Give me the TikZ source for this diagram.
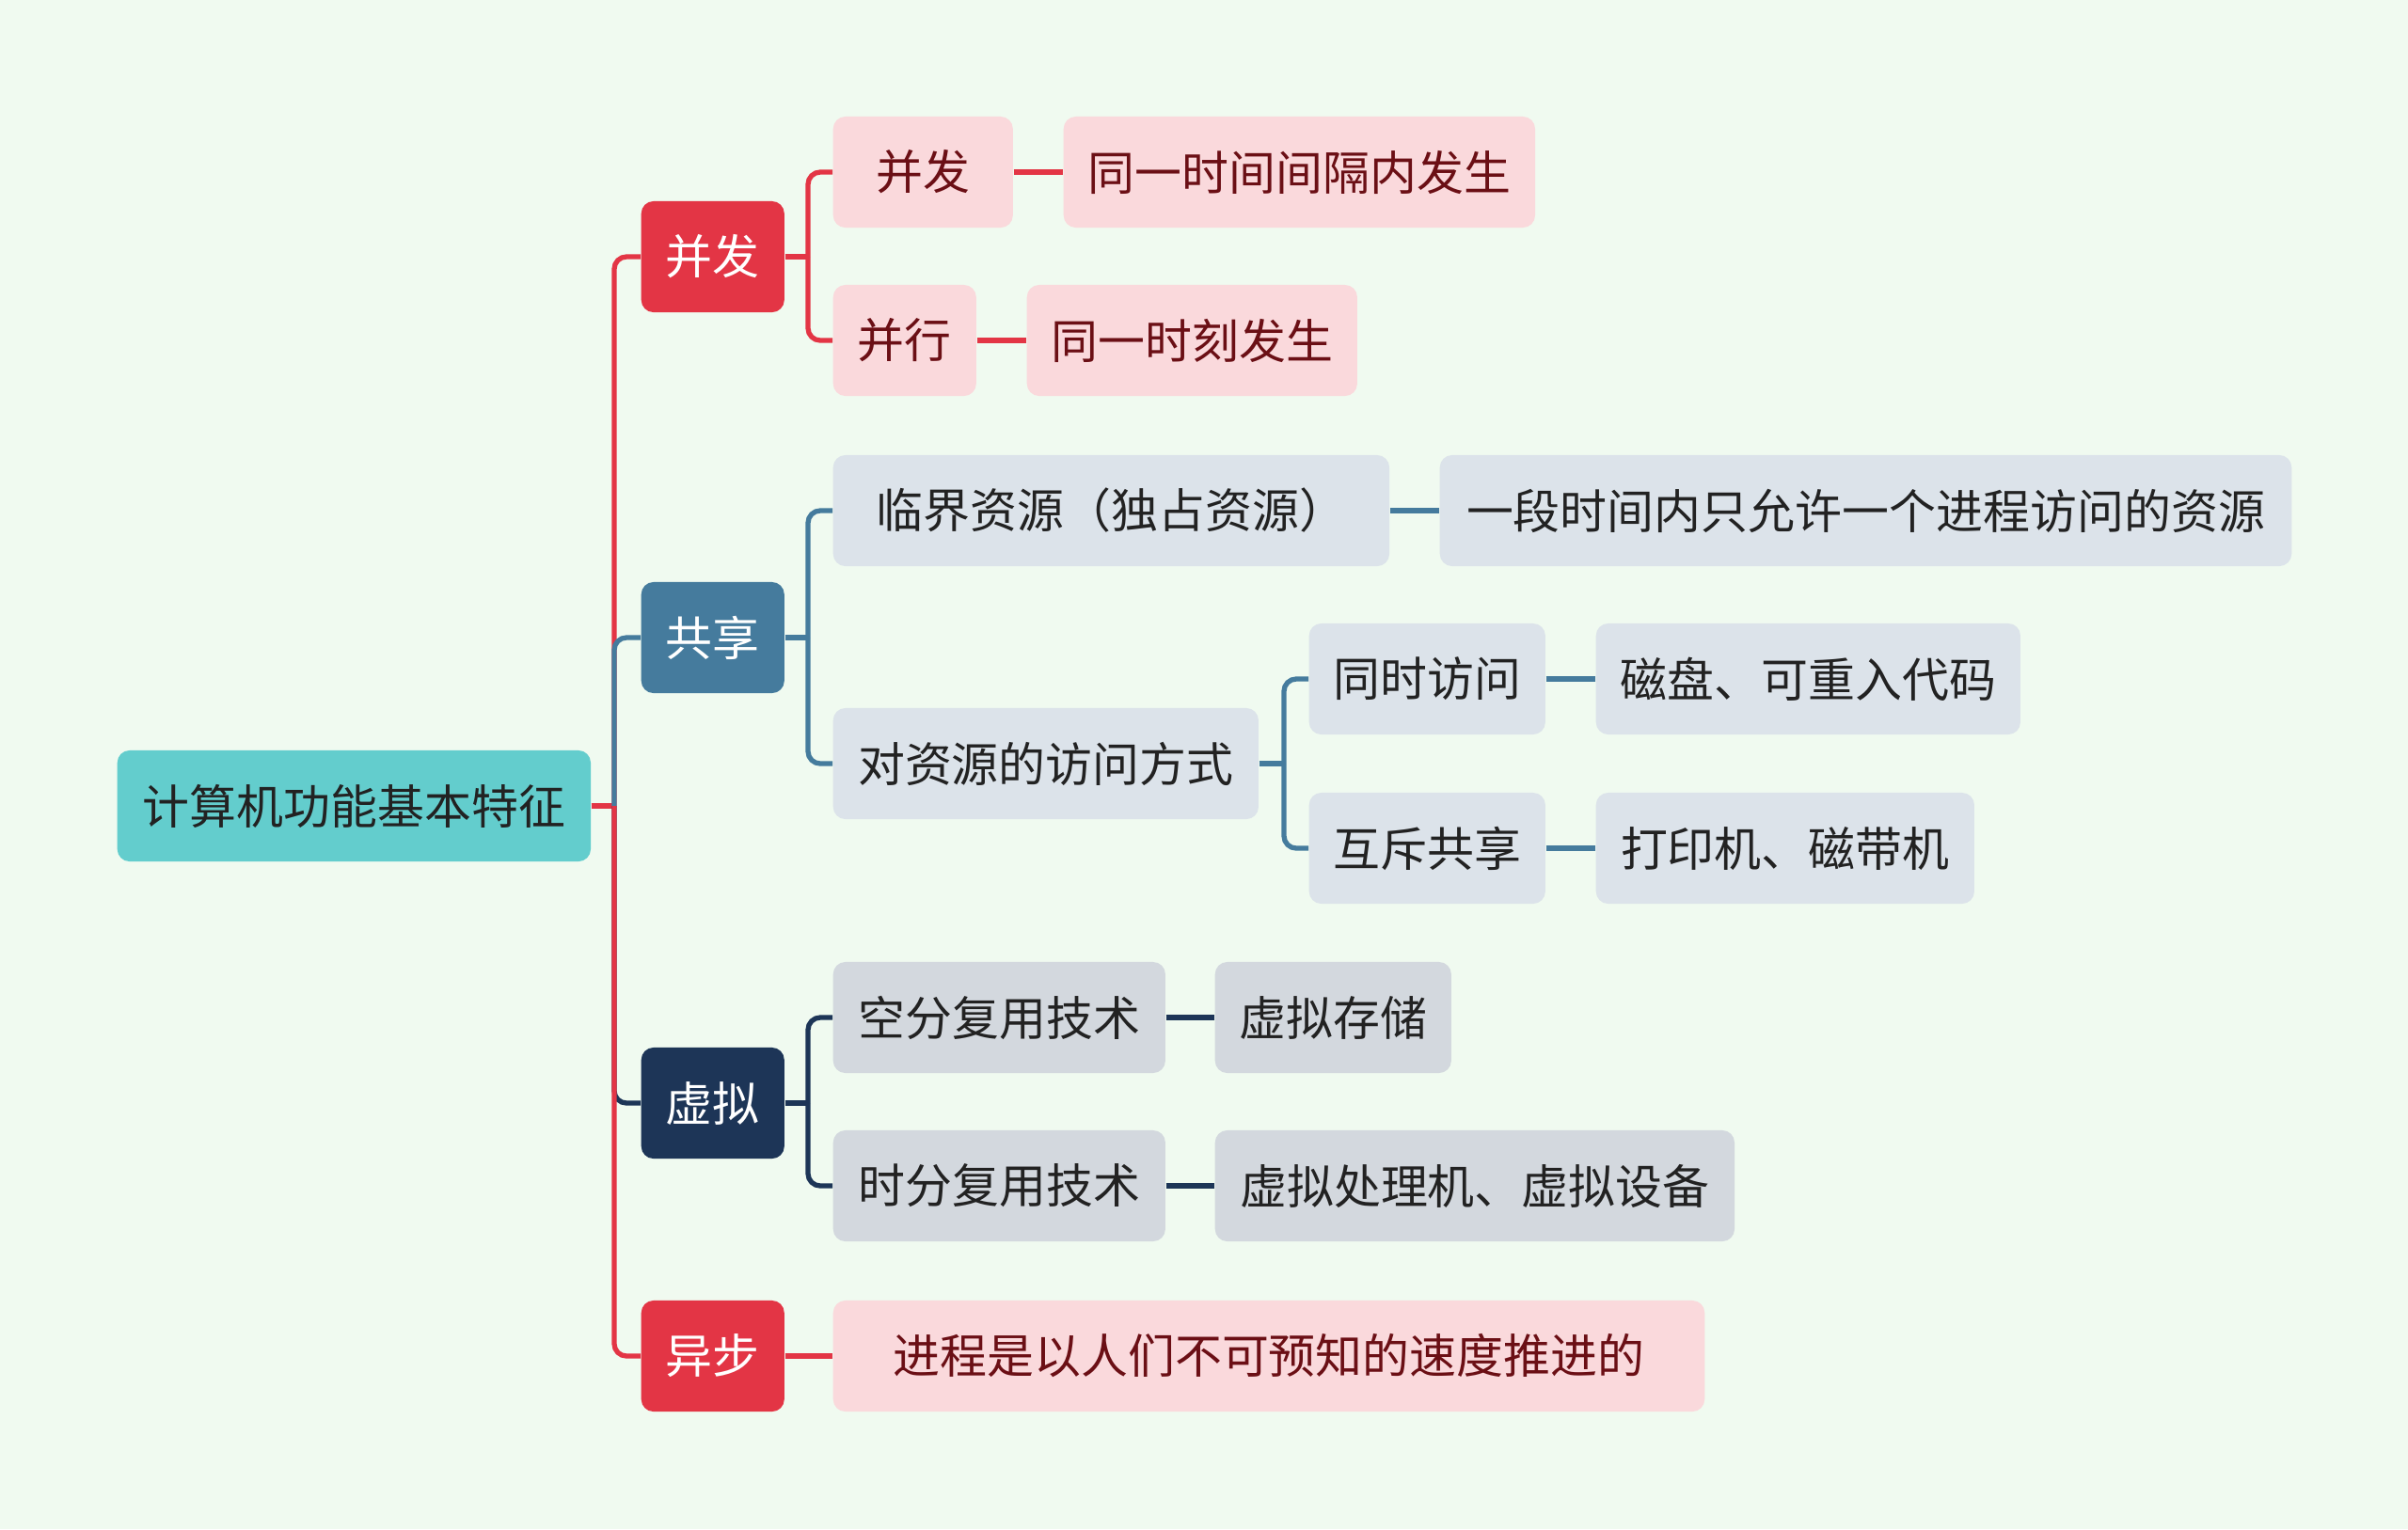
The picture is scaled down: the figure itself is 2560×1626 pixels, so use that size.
\documentclass[tikz,border=0pt]{standalone}
\usepackage{fontspec}
\setmainfont{Noto Sans CJK SC}
\definecolor{bgcol}{HTML}{F0FAF0}
\definecolor{rootcol}{HTML}{63CDCD}
\definecolor{redcol}{HTML}{E33545}
\definecolor{bluecol}{HTML}{457B9D}
\definecolor{navycol}{HTML}{1D3557}
\definecolor{pinkcol}{HTML}{FAD9DC}
\definecolor{greycol}{HTML}{DCE3EA}
\definecolor{ashcol}{HTML}{D3D8DE}
\definecolor{winecol}{HTML}{6B0F15}
\definecolor{inkcol}{HTML}{222222}

\begin{document}
\begin{tikzpicture}[x=0.01cm,y=-0.01cm,
  box/.style={rounded corners=1.3mm,minimum height=11.8mm,inner sep=0pt,anchor=west,
    font=\fontsize{14.2}{16}\selectfont},
  rootbox/.style={box,fill=rootcol,text=inkcol},
  topbox/.style={box,text=white,minimum width=15.2mm},
  pinkbox/.style={box,fill=pinkcol,text=winecol},
  greybox/.style={box,fill=greycol,text=inkcol},
  ashbox/.style={box,fill=ashcol,text=inkcol},
  link/.style={line width=1.5pt,rounded corners=1.3mm}]
\fill[bgcol] (0,0) rectangle (2560,1626);
\def\tx{653}
\def\jx{859}
\def\kx{1365}
% root and first level
\node[rootbox,minimum width=50.3mm] (root) at (124,857) {计算机功能基本特征};
\node[topbox,fill=redcol] (bingfa) at (681,273) {并发};
\node[topbox,fill=bluecol] (gongxiang) at (681,678) {共享};
\node[topbox,fill=navycol] (xuni) at (681,1173) {虚拟};
\node[topbox,fill=redcol] (yibu) at (681,1442) {异步};
% second level
\node[pinkbox,minimum width=19.1mm] (bf) at (885,183) {并发};
\node[pinkbox,minimum width=15.2mm] (bx) at (885,362) {并行};
\node[greybox,minimum width=59.1mm] (linjie) at (885,543) {临界资源（独占资源）};
\node[greybox,minimum width=45.2mm] (fangshi) at (885,812) {对资源的访问方式};
\node[ashbox,minimum width=35.3mm] (kongfen) at (885,1082) {空分复用技术};
\node[ashbox,minimum width=35.3mm] (shifen) at (885,1261) {时分复用技术};
\node[pinkbox,minimum width=92.6mm] (jincheng) at (885,1442) {进程是以人们不可预知的速度推进的};
% third level
\node[pinkbox,minimum width=50.1mm] (bfdesc) at (1130,183) {同一时间间隔内发生};
\node[pinkbox,minimum width=35.1mm] (bxdesc) at (1091,362) {同一时刻发生};
\node[greybox,minimum width=90.5mm] (ljdesc) at (1530,543) {一段时间内只允许一个进程访问的资源};
\node[greybox,minimum width=25.1mm] (tongshi) at (1391,722) {同时访问};
\node[greybox,minimum width=25.1mm] (huchi) at (1391,902) {互斥共享};
\node[ashbox,minimum width=25.1mm] (cunchu) at (1291,1082) {虚拟存储};
\node[ashbox,minimum width=55.2mm] (chuli) at (1291,1261) {虚拟处理机、虚拟设备};
% fourth level
\node[greybox,minimum width=45.1mm] (cipan) at (1696,722) {磁盘、可重入代码};
\node[greybox,minimum width=40.2mm] (dayin) at (1696,902) {打印机、磁带机};
% connectors
\draw[link,redcol] (root.east) -- (\tx,857);
\draw[link,redcol] (\tx,857) |- (bingfa.west);
\draw[link,bluecol] (\tx,857) |- (gongxiang.west);
\draw[link,navycol] (\tx,857) |- (xuni.west);
\draw[link,redcol] (\tx,857) |- (yibu.west);
\draw[link,redcol] (bingfa.east) -- (\jx,273);
\draw[link,redcol] (\jx,273) |- (bf.west);
\draw[link,redcol] (\jx,273) |- (bx.west);
\draw[link,bluecol] (gongxiang.east) -- (\jx,678);
\draw[link,bluecol] (\jx,678) |- (linjie.west);
\draw[link,bluecol] (\jx,678) |- (fangshi.west);
\draw[link,navycol] (xuni.east) -- (\jx,1173);
\draw[link,navycol] (\jx,1173) |- (kongfen.west);
\draw[link,navycol] (\jx,1173) |- (shifen.west);
\draw[link,redcol] (yibu.east) -- (jincheng.west);
\draw[link,redcol] (bf.east) -- (bfdesc.west);
\draw[link,redcol] (bx.east) -- (bxdesc.west);
\draw[link,bluecol] (linjie.east) -- (ljdesc.west);
\draw[link,bluecol] (fangshi.east) -- (\kx,812);
\draw[link,bluecol] (\kx,812) |- (tongshi.west);
\draw[link,bluecol] (\kx,812) |- (huchi.west);
\draw[link,bluecol] (tongshi.east) -- (cipan.west);
\draw[link,bluecol] (huchi.east) -- (dayin.west);
\draw[link,navycol] (kongfen.east) -- (cunchu.west);
\draw[link,navycol] (shifen.east) -- (chuli.west);
\end{tikzpicture}
\end{document}
